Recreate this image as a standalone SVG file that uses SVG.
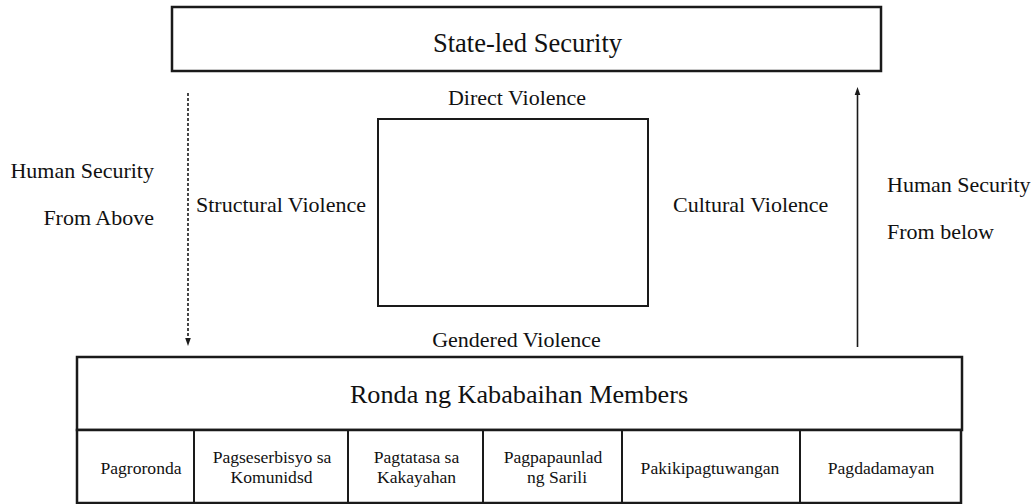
<svg xmlns="http://www.w3.org/2000/svg" width="1035" height="504" viewBox="0 0 1035 504" font-family="'Liberation Serif', 'Times New Roman', serif">
<style>
text{font-family:"Liberation Serif","Times New Roman",serif;fill:#111}
.box{fill:#fff;stroke:#1a1a1a;stroke-width:2.5}
.thin{fill:none;stroke:#1a1a1a;stroke-width:2}
.lbl{font-size:22px}
.cell{font-size:17.6px;text-anchor:middle}
.conn{stroke:#1a1a1a;stroke-width:1.6;fill:none}
</style>
<defs>
<marker id="ah" markerWidth="8" markerHeight="8" refX="4" refY="4" orient="auto" markerUnits="userSpaceOnUse">
<path d="M0,1.2 L8,4 L0,6.8 Z" fill="#1a1a1a"/>
</marker>
</defs>
<rect width="1035" height="504" fill="#fff"/>
<g id="state-led">
<rect class="box" x="172" y="7" width="709" height="64"/>
<text x="527.5" y="52" font-size="26.5" text-anchor="middle">State-led Security</text>
</g>
<g id="violence-square">
<rect class="thin" x="378" y="119" width="270" height="187"/>
</g>
<g id="direct-violence"><text class="lbl" x="517" y="105" text-anchor="middle">Direct Violence</text></g>
<g id="gendered-violence"><text class="lbl" x="516.5" y="347" text-anchor="middle">Gendered Violence</text></g>
<g id="structural-violence"><text class="lbl" x="196" y="212">Structural Violence</text></g>
<g id="cultural-violence"><text class="lbl" x="673" y="212">Cultural Violence</text></g>
<g id="hs-above">
<text class="lbl" x="154" y="178" text-anchor="end">Human Security</text>
<text class="lbl" x="154" y="225" text-anchor="end">From Above</text>
</g>
<g id="hs-below">
<text class="lbl" x="887" y="192">Human Security</text>
<text class="lbl" x="887" y="239">From below</text>
</g>
<g id="connectors">
<line class="conn" x1="188" y1="93" x2="188" y2="342" stroke-dasharray="3,2" marker-end="url(#ah)"/>
<line class="conn" x1="857.5" y1="347" x2="857.5" y2="91" marker-end="url(#ah)"/>
</g>
<g id="ronda">
<rect class="box" x="77" y="357" width="885" height="73"/>
<text x="519" y="403" font-size="26.2" text-anchor="middle">Ronda ng Kababaihan Members</text>
</g>
<g id="table">
<rect class="box" x="77" y="430" width="884" height="73"/>
<line class="thin" x1="194" y1="430" x2="194" y2="503"/>
<line class="thin" x1="348" y1="430" x2="348" y2="503"/>
<line class="thin" x1="483" y1="430" x2="483" y2="503"/>
<line class="thin" x1="622" y1="430" x2="622" y2="503"/>
<line class="thin" x1="800" y1="430" x2="800" y2="503" stroke-width="3"/>
</g>
<g id="pagroronda"><text class="cell" x="141" y="474">Pagroronda</text></g>
<g id="pagseserbisyo"><text class="cell" x="272" y="463">Pagseserbisyo sa</text><text class="cell" x="271.5" y="483">Komunidsd</text></g>
<g id="pagtatasa"><text class="cell" x="416.5" y="463">Pagtatasa sa</text><text class="cell" x="416.5" y="483">Kakayahan</text></g>
<g id="pagpapaunlad"><text class="cell" x="553" y="463">Pagpapaunlad</text><text class="cell" x="557" y="483">ng Sarili</text></g>
<g id="pakikipagtuwangan"><text class="cell" x="710" y="474">Pakikipagtuwangan</text></g>
<g id="pagdadamayan"><text class="cell" x="881" y="474">Pagdadamayan</text></g>
</svg>
